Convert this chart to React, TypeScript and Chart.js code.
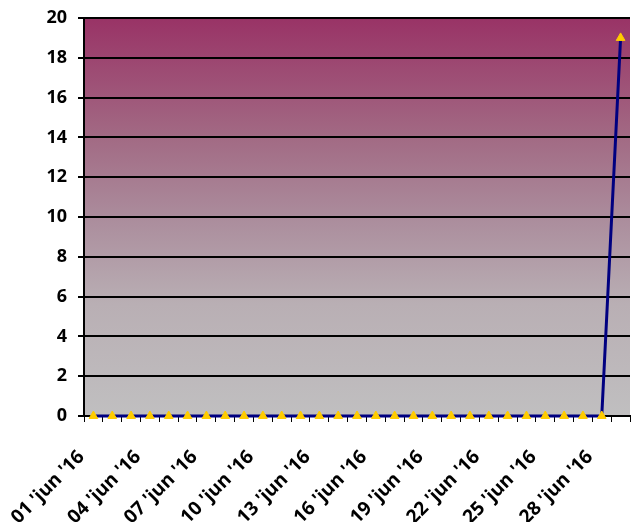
import React, { useEffect, useRef } from "react";
import { Chart, registerables } from "chart.js";

Chart.register(...registerables);

const days: string[] = [
  "01", "02", "03", "04", "05", "06", "07", "08", "09", "10",
  "11", "12", "13", "14", "15", "16", "17", "18", "19", "20",
  "21", "22", "23", "24", "25", "26", "27", "28", "29",
];
const categories: string[] = days.map((d) => `${d} 'jun '16`);
const values: number[] = [
  0, 0, 0, 0, 0, 0, 0, 0, 0, 0,
  0, 0, 0, 0, 0, 0, 0, 0, 0, 0,
  0, 0, 0, 0, 0, 0, 0, 0, 19,
];
const yMin = 0;
const yMax = 20;
const yStep = 2;

const bgPlugin = {
  id: "plotBg",
  beforeDraw(chart: any) {
    const { ctx, chartArea } = chart;
    if (!chartArea) return;
    const g = ctx.createLinearGradient(0, chartArea.top, 0, chartArea.bottom);
    g.addColorStop(0, "#993366");
    g.addColorStop(0.3, "#a26a84");
    g.addColorStop(0.5, "#ab8c9c");
    g.addColorStop(0.72, "#b9afb4");
    g.addColorStop(1, "#c0bfc0");
    ctx.save();
    ctx.fillStyle = g;
    ctx.fillRect(chartArea.left, chartArea.top, chartArea.right - chartArea.left, chartArea.bottom - chartArea.top);
    ctx.restore();
  },
};

export default function App() {
  const ref = useRef<HTMLCanvasElement>(null);
  useEffect(() => {
    document.body.style.margin = "0";
    const chart = new Chart(ref.current!, {
      type: "line",
      data: {
        labels: categories,
        datasets: [
          {
            data: values,
            borderColor: "#000080",
            borderWidth: 3,
            pointStyle: "triangle",
            pointRadius: 5,
            pointBackgroundColor: "#ffcc00",
            pointBorderColor: "#ffcc00",
            pointBorderWidth: 1,
            clip: false as any,
            tension: 0,
          },
        ],
      },
      options: {
        animation: false,
        responsive: false,
        devicePixelRatio: 1,
        layout: { padding: { top: 18, right: 0, left: 0, bottom: 0 } },
        plugins: { legend: { display: false }, tooltip: { enabled: false } },
        scales: {
          x: {
            offset: true,
            afterFit: (s: any) => {
              s.paddingRight = 0;
              s.paddingLeft = 0;
              s.height = 106;
            },
            border: { display: true, color: "#000", width: 2 },
            grid: {
              offset: true,
              drawOnChartArea: false,
              drawTicks: true,
              tickLength: 6,
              color: "#000",
              lineWidth: 1,
            },
            ticks: {
              autoSkip: false,
              maxRotation: 45,
              minRotation: 45,
              padding: 24,
              labelOffset: -12,
              color: "#000",
              font: { family: "'Open Sans', sans-serif", size: 19, weight: "bold" },
              callback: (_v: any, i: number) => (i % 3 === 0 ? categories[i] : ""),
            },
          },
          y: {
            min: yMin,
            max: yMax,
            afterFit: (s: any) => {
              s.width = 84;
              s.paddingTop = 0;
              s.paddingBottom = 0;
            },
            border: { display: true, color: "#000", width: 2 },
            grid: {
              color: "#000",
              lineWidth: 2,
              drawTicks: true,
              tickLength: 6,
            },
            ticks: {
              stepSize: yStep,
              color: "#000",
              padding: 11,
              font: { family: "'Open Sans', sans-serif", size: 18, weight: "bold" },
            },
          },
        },
      },
      plugins: [bgPlugin],
    });
    return () => chart.destroy();
  }, []);
  return <canvas ref={ref} width={636} height={522} style={{ display: "block" }} />;
}
